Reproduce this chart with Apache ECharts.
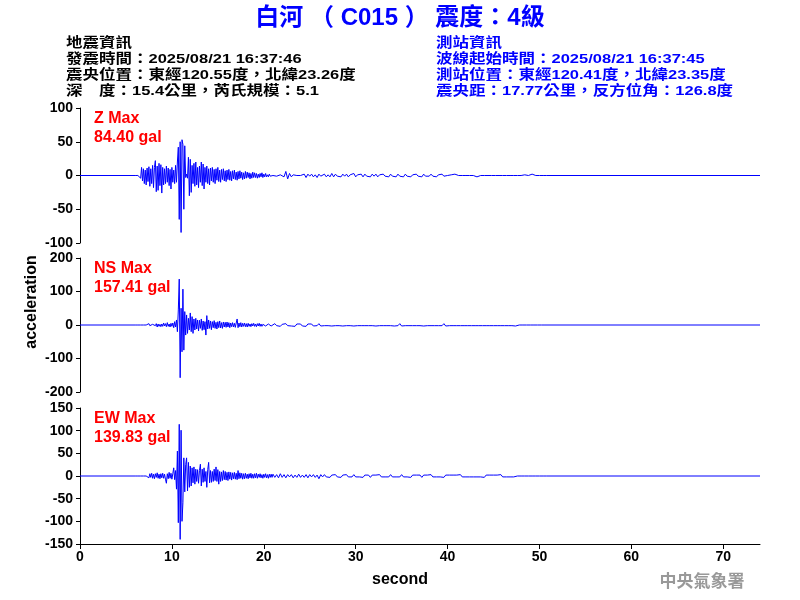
<!DOCTYPE html>
<html>
<head>
<meta charset="utf-8">
<script src="https://cdn.jsdelivr.net/npm/echarts@6/dist/echarts.min.js"></script>
<style>html,body{margin:0;padding:0;background:#fff}#c{width:800px;height:600px}</style>
</head>
<body>
<div id="c"></div>
<script>
// ---------- data ----------
const xMax = 74;
const xTicks = [0, 10, 20, 30, 40, 50, 60, 70];
const zTicks = [-100, -50, 0, 50, 100];
const nsTicks = [-200, -100, 0, 100, 200];
const ewTicks = [-150, -100, -50, 0, 50, 100, 150];

const mainStart = 6.0, mainStep = 0.1;   // 6.0 .. 20.9 s
const tailStart = 21.0, tailStep = 0.2;  // 21.0 .. 50.8 s

const zMain = [
  0,0,0,0,0,0,-4,12,-8,10,
  -12,8,-14,11,-9,13,-16,10,-12,15,
  -18,12,22,-24,14,-22,18,-15,16,-26,
  12,-14,10,-12,14,-10,11,-15,9,-20,
  12,-10,8,-12,15,-10,20,42,-65,50,
  -84.4,53,46,-50,44,-3,2,-4,27,-30,
  24,-25,15,-12,18,-16,20,-14,12,-18,
  14,-10,20,-15,17,-20,12,-10,14,-12,
  10,-14,11,-8,12,-10,9,-12,10,-7,
  12,-9,8,-10,9,-6,10,-8,7,-9,
  8,-6,9,-7,6,-8,7,-5,8,-6,
  5,-7,6,-5,7,-4,5,-6,4,-5,
  6,-4,5,-3,4,-5,3,-4,5,-3,
  4,-3,3,-4,2,-3,3,-2,4,-3,
  2,-2,3,-2,1,-2,2,-1,1,-1
];
const zTail = [
  0,1,-1,0,1,0,-2,6,-5,3,
  -2,1,0,0,0,0,0,2,-3,2,
  -1,2,-2,1,-3,2,-1,0,2,-2,
  1,-2,3,-2,2,-1,1,-2,2,-1,
  2,-2,1,-1,3,-2,1,-1,2,-2,
  2,-1,1,-2,2,-1,2,-2,1,-1,
  2,-1,1,-2,2,-1,1,-2,2,-1,
  1,-2,2,-1,1,-2,1,-1,2,-1,
  1,-2,2,-1,1,-1,2,-1,1,-2,
  1,-1,2,-1,1,0,-1,1,0,2,
  0,0,0,0,0,0,0,0,0,0,
  1,-2,0,0,0,0,0,0,0,0,
  0,0,0,0,0,0,0,0,0,0,
  0,0,0,0,0,0,0,1,2,0,
  0,2,0,0,0,0,0,0,0,0
];

const nsMain = [
  0,0,0,0,0,0,0,0,0,0,
  0,0,0,2,-3,4,-2,3,-4,2,
  -3,5,-2,4,-6,3,-4,2,-5,3,
  -4,6,-3,4,-5,7,-4,3,-6,5,
  -4,6,-8,10,-6,15,-20,45,137,-157.41,
  50,-80,107,-75,40,-30,30,-25,20,-15,
  36,-20,25,-25,18,-15,20,-12,15,-18,
  14,-10,18,-16,12,-14,10,-30,28,-12,
  15,-10,12,-14,10,-8,13,-10,8,-12,
  10,-8,12,-9,7,-10,9,-6,8,-7,
  9,-6,7,-8,6,-5,7,-6,5,-7,
  6,18,-8,6,-5,7,-6,5,-4,6,
  -5,4,-6,5,-4,3,-5,4,-3,5,
  -4,3,-5,4,-3,5,-4,3,-4,2,
  -3,4,-3,2,-4,3,-2,3,-3,2
];
const nsTail = [
  -3,4,-2,3,-4,2,-3,4,-2,3,
  -3,2,-4,3,-2,3,-3,2,-4,3,
  -2,3,-3,2,-2,4,-3,2,-2,3,
  -2,2,-3,2,-2,3,-2,2,-3,2,
  -2,3,-2,2,-3,2,-2,2,-2,3,
  -2,2,-2,3,-2,2,-3,2,-2,2,
  -2,3,-2,2,-2,2,-3,2,-2,4,
  -3,2,-2,2,-2,3,-2,2,-2,2,
  -2,2,-3,2,-2,2,-2,2,-2,3,
  -2,2,-2,4,-3,2,-2,2,-2,2,
  -2,3,-2,2,-2,2,-2,2,-2,3,
  -2,2,-2,2,-2,2,-2,2,-2,2,
  -2,3,-2,2,-2,2,-2,3,-2,2,
  -2,2,-3,0,0,0,0,0,0,0,
  0,0,0,0,0,0,0,0,0,0
];

const ewMain = [
  0,0,0,0,0,0,0,0,3,0,
  0,0,0,0,2,-4,5,-3,6,-5,
  4,-6,5,-3,7,-5,4,-6,5,-4,
  6,-5,4,-7,-16,5,-6,8,-5,6,
  -7,5,18,-8,12,-29,55,-103,114,-139.83,
  101,-100,-59,40,-35,25,40,-33,30,-25,
  22,-22,18,-15,20,-18,15,-12,14,-16,
  12,26,-22,15,-14,18,-12,10,-25,14,
  30,-15,12,-14,10,-12,15,-10,20,-12,
  14,-18,10,-12,9,-10,12,-8,10,-9,
  8,-10,9,-7,8,-9,7,-6,8,-7,
  6,-8,12,-6,7,-5,6,-7,5,-6,
  6,-5,4,-6,5,-4,6,-5,4,-5,
  5,-4,6,-5,4,-3,5,-4,3,-5,
  4,-3,5,-4,3,-5,4,-3,4,-3
];
const ewTail = [
  4,-3,3,-4,5,-3,3,-4,3,-2,
  3,-4,2,-3,4,-3,2,-3,3,-4,
  3,-2,3,-3,2,-6,3,-2,3,-2,
  2,-3,2,-2,3,-2,2,-3,2,-2,
  3,-2,2,-2,3,-2,2,-2,2,-3,
  2,-2,2,-3,2,-2,2,-2,3,-2,
  2,-2,2,-2,3,-2,2,-2,2,-2,
  3,-2,2,-2,2,-3,2,-2,2,-2,
  2,-3,2,-2,2,-2,3,-2,2,-2,
  2,-2,2,-3,2,-2,2,-2,2,-2,
  2,-2,3,-2,2,-2,2,-2,2,-2,
  2,-2,2,-2,2,-3,2,-2,2,-2,
  2,-2,2,-2,3,-2,2,-2,2,-2,
  2,-2,0,0,0,0,0,0,0,0,
  0,0,0,0,0,0,0,0,0,0
];

const channelLabels = ['Z Max', 'NS Max', 'EW Max'];
const peakLabels = ['84.40 gal', '157.41 gal', '139.83 gal'];

const titleText = '白河 （ C015 ） 震度：4級';
const leftInfo = ['地震資訊', '發震時間：2025/08/21 16:37:46', '震央位置：東經120.55度，北緯23.26度', '深　度：15.4公里，芮氏規模：5.1'];
const rightInfo = ['測站資訊', '波線起始時間：2025/08/21 16:37:45', '測站位置：東經120.41度，北緯23.35度', '震央距：17.77公里，反方位角：126.8度'];

// ---------- build ----------
function build(main, tail) {
  const pts = [[0, 0]];
  main.forEach((v, i) => pts.push([+(mainStart + i * mainStep).toFixed(2), v]));
  tail.forEach((v, i) => pts.push([+(tailStart + i * tailStep).toFixed(2), v]));
  pts.push([xMax, 0]);
  return pts;
}

const FONT = '"Liberation Sans", Arial, sans-serif';
const CJK = '"Liberation Sans", "Noto Sans CJK TC", sans-serif';
const grids = [
  { left: 80, top: 108, width: 680, height: 135 },
  { left: 80, top: 258, width: 680, height: 134 },
  { left: 80, top: 408, width: 680, height: 136 }
];
const tickSets = [zTicks, nsTicks, ewTicks];
const seriesData = [build(zMain, zTail), build(nsMain, nsTail), build(ewMain, ewTail)];

const xAxes = grids.map((g, i) => ({
  type: 'value', gridIndex: i, min: 0, max: xMax,
  show: i === 2,
  splitLine: { show: false },
  axisLine: { show: true, onZero: false, lineStyle: { color: '#000', width: 1 } },
  axisTick: { show: true, length: 5, customValues: xTicks, lineStyle: { color: '#000' } },
  axisLabel: { show: true, customValues: xTicks, margin: 6, color: '#000', fontFamily: FONT, fontWeight: 'bold', fontSize: 14 }
}));
const yAxes = tickSets.map((t, i) => ({
  type: 'value', gridIndex: i, min: t[0], max: t[t.length - 1], interval: t[1] - t[0],
  splitLine: { show: false },
  axisLine: { show: true, onZero: false, lineStyle: { color: '#000', width: 1 } },
  axisTick: { show: true, length: 4, lineStyle: { color: '#000' } },
  axisLabel: { margin: 7, color: '#000', fontFamily: FONT, fontWeight: 'bold', fontSize: 14 }
}));
const series = seriesData.map((d, i) => ({
  type: 'line', xAxisIndex: i, yAxisIndex: i, data: d,
  showSymbol: false, symbol: 'none', lineStyle: { color: '#0000ff', width: 1 },
  itemStyle: { color: '#0000ff' }, animation: false, silent: true
}));

const graphics = [];
graphics.push({ type: 'text', x: 400, y: 18, style: { text: titleText, font: 'bold 24px ' + CJK, fill: '#0000ff', textAlign: 'center', textVerticalAlign: 'middle' } });
leftInfo.forEach((s, i) => graphics.push({ type: 'text', x: 66, y: 43.5 + i * 15.8, scaleY: 0.82, style: { text: s, font: 'bold 16.5px ' + CJK, fill: '#000', textAlign: 'left', textVerticalAlign: 'middle' } }));
rightInfo.forEach((s, i) => graphics.push({ type: 'text', x: 436, y: 43.5 + i * 15.8, scaleY: 0.82, style: { text: s, font: 'bold 16.5px ' + CJK, fill: '#0000ff', textAlign: 'left', textVerticalAlign: 'middle' } }));
grids.forEach((g, i) => {
  graphics.push({ type: 'text', x: 94, y: g.top + 10.5, style: { text: channelLabels[i], font: 'bold 16px ' + FONT, fill: '#ff0000', textAlign: 'left', textVerticalAlign: 'middle' } });
  graphics.push({ type: 'text', x: 94, y: g.top + 30, style: { text: peakLabels[i], font: 'bold 16px ' + FONT, fill: '#ff0000', textAlign: 'left', textVerticalAlign: 'middle' } });
});
graphics.push({ type: 'text', x: 32, y: 302, rotation: Math.PI / 2, style: { text: 'acceleration', font: 'bold 16px ' + FONT, fill: '#000', textAlign: 'center', textVerticalAlign: 'middle' } });
graphics.push({ type: 'text', x: 400, y: 580, style: { text: 'second', font: 'bold 16px ' + FONT, fill: '#000', textAlign: 'center', textVerticalAlign: 'middle' } });
graphics.push({ type: 'text', x: 702, y: 581, style: { text: '中央氣象署', font: 'bold 17px "Noto Sans CJK TC", sans-serif', fill: '#999999', textAlign: 'center', textVerticalAlign: 'middle' } });

const chart = echarts.init(document.getElementById('c'), null, { renderer: 'canvas' });
chart.setOption({
  animation: false,
  backgroundColor: '#ffffff',
  grid: grids,
  xAxis: xAxes,
  yAxis: yAxes,
  series: series,
  graphic: graphics
});
</script>
</body>
</html>
